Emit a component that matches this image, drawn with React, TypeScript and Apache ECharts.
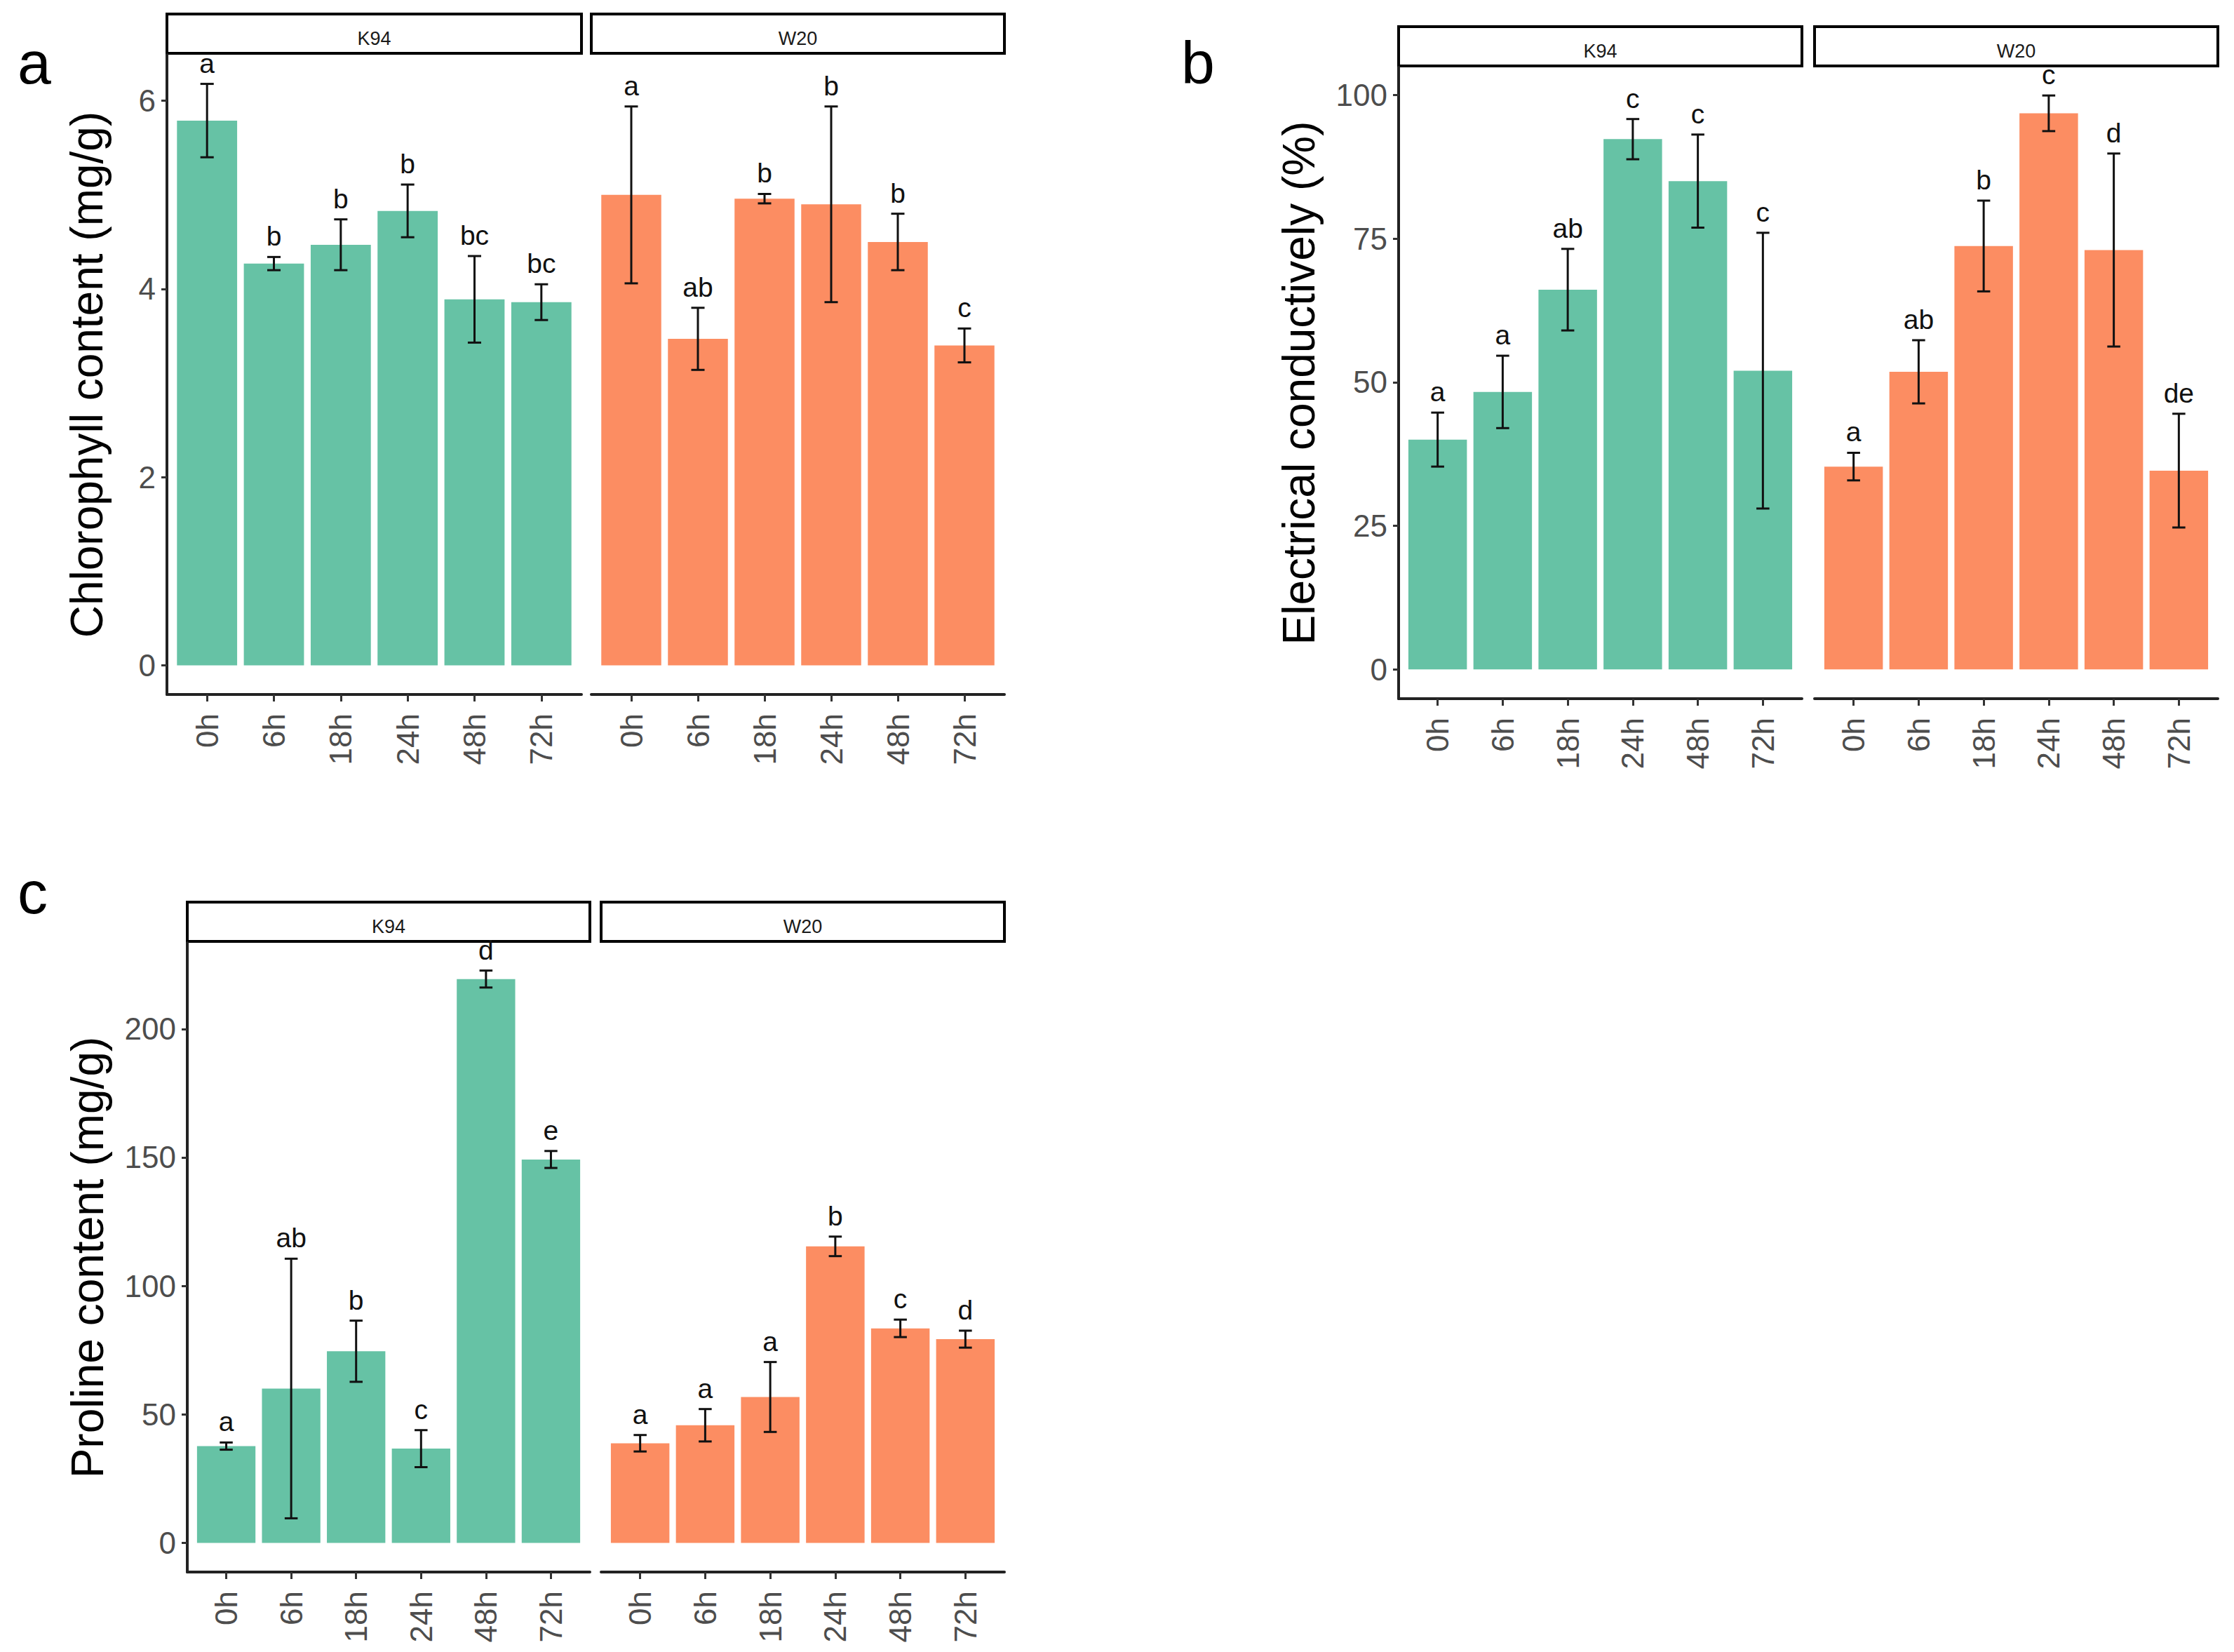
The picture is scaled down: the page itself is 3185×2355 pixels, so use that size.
import React, { useEffect, useRef } from "react";
import * as echarts from "echarts";

const FONT_NAME = "Liberation Sans";
const FONT = "'Liberation Sans', Arial, sans-serif";

// ---- categories ----
const timePoints = ["0h", "6h", "18h", "24h", "48h", "72h"];
const positions = [1, 2, 3, 4, 5, 6];
const cultivars = ["K94", "W20"];

// ---- (a) chlorophyll content (mg/g) ----
const chlK94Mean = [5.79, 4.27, 4.47, 4.83, 3.89, 3.86];
const chlK94Sd = [0.39, 0.07, 0.27, 0.28, 0.46, 0.19];
const chlK94Letters = ["a", "b", "b", "b", "bc", "bc"];
const chlW20Mean = [5.0, 3.47, 4.96, 4.9, 4.5, 3.4];
const chlW20Sd = [0.94, 0.33, 0.05, 1.04, 0.3, 0.18];
const chlW20Letters = ["a", "ab", "b", "b", "b", "c"];
const chlTicks = [0, 2, 4, 6];

// ---- (b) electrical conductivity (%) ----
const ecK94Mean = [40.0, 48.3, 66.1, 92.3, 85.0, 52.0];
const ecK94Sd = [4.7, 6.3, 7.1, 3.5, 8.1, 24.0];
const ecK94Letters = ["a", "a", "ab", "c", "c", "c"];
const ecW20Mean = [35.3, 51.8, 73.7, 96.8, 73.0, 34.6];
const ecW20Sd = [2.4, 5.5, 7.9, 3.1, 16.8, 9.9];
const ecW20Letters = ["a", "ab", "b", "c", "d", "de"];
const ecTicks = [0, 25, 50, 75, 100];

// ---- (c) proline content (mg/g) ----
const proK94Mean = [37.7, 60.1, 74.6, 36.7, 219.4, 149.2];
const proK94Sd = [1.4, 50.5, 11.9, 7.2, 3.3, 3.3];
const proK94Letters = ["a", "ab", "b", "c", "d", "e"];
const proW20Mean = [38.8, 45.8, 56.8, 115.4, 83.5, 79.3];
const proW20Sd = [3.2, 6.3, 13.6, 3.8, 3.4, 3.3];
const proW20Letters = ["a", "a", "a", "b", "c", "d"];
const proTicks = [0, 50, 100, 150, 200];

const K94_COLOR = "#66C2A5";
const W20_COLOR = "#FC8D62";

type Box = { left: number; top: number; width: number; height: number };
type Facet = {
  strip: string;
  mean: number[];
  sd: number[];
  letters: string[];
  color: string;
  box: Box;
};
type Panel = {
  tag: string;
  tagX: number;
  tagY: number;
  title: string;
  nameGap: number;
  yMin: number;
  yMax: number;
  ticks: number[];
  facets: Facet[];
};

const panels: Panel[] = [
  {
    tag: "a",
    tagX: 25,
    tagY: 132,
    title: "Chlorophyll content (mg/g)",
    nameGap: 82,
    yMin: -0.31,
    yMax: 6.49,
    ticks: chlTicks,
    facets: [
      { strip: cultivars[0], mean: chlK94Mean, sd: chlK94Sd, letters: chlK94Letters, color: K94_COLOR, box: { left: 238, top: 78, width: 591, height: 912 } },
      { strip: cultivars[1], mean: chlW20Mean, sd: chlW20Sd, letters: chlW20Letters, color: W20_COLOR, box: { left: 843, top: 78, width: 589, height: 912 } },
    ],
  },
  {
    tag: "b",
    tagX: 1684,
    tagY: 132,
    title: "Electrical conductively (%)",
    nameGap: 110,
    yMin: -5.1,
    yMax: 104.8,
    ticks: ecTicks,
    facets: [
      { strip: cultivars[0], mean: ecK94Mean, sd: ecK94Sd, letters: ecK94Letters, color: K94_COLOR, box: { left: 1994, top: 96, width: 575, height: 900 } },
      { strip: cultivars[1], mean: ecW20Mean, sd: ecW20Sd, letters: ecW20Letters, color: W20_COLOR, box: { left: 2587, top: 96, width: 575, height: 900 } },
    ],
  },
  {
    tag: "c",
    tagX: 25,
    tagY: 1315,
    title: "Proline content (mg/g)",
    nameGap: 110,
    yMin: -11.3,
    yMax: 233.5,
    ticks: proTicks,
    facets: [
      { strip: cultivars[0], mean: proK94Mean, sd: proK94Sd, letters: proK94Letters, color: K94_COLOR, box: { left: 267, top: 1344, width: 574, height: 897 } },
      { strip: cultivars[1], mean: proW20Mean, sd: proW20Sd, letters: proW20Letters, color: W20_COLOR, box: { left: 857, top: 1344, width: 575, height: 897 } },
    ],
  },
];

const makeRender = (f: Facet) => (params: any, api: any) => {
  const x = api.value(0);
  const m = api.value(1);
  const s = api.value(2);
  const tl = api.coord([x - 0.45, m]);
  const br = api.coord([x + 0.45, 0]);
  const hi = api.coord([x, m + s]);
  const lo = api.coord([x, m - s]);
  const cw = api.coord([x + 0.1, m])[0] - api.coord([x, m])[0];
  const ls = { stroke: "#111", lineWidth: 3 };
  return {
    type: "group",
    children: [
      {
        type: "rect",
        shape: { x: tl[0], y: tl[1], width: br[0] - tl[0], height: br[1] - tl[1] },
        style: { fill: f.color },
      },
      { type: "line", shape: { x1: hi[0], y1: hi[1], x2: lo[0], y2: lo[1] }, style: ls },
      { type: "line", shape: { x1: hi[0] - cw, y1: hi[1], x2: hi[0] + cw, y2: hi[1] }, style: ls },
      { type: "line", shape: { x1: lo[0] - cw, y1: lo[1], x2: lo[0] + cw, y2: lo[1] }, style: ls },
      {
        type: "text",
        x: hi[0],
        y: hi[1] - 10,
        style: {
          text: f.letters[params.dataIndex],
          font: `39px ${FONT}`,
          fill: "#111",
          align: "center",
          verticalAlign: "bottom",
          textAlign: "center",
          textVerticalAlign: "bottom",
        },
      },
    ],
  };
};

function buildOption() {
  const grids: any[] = [];
  const xAxes: any[] = [];
  const yAxes: any[] = [];
  const series: any[] = [];
  const graphics: any[] = [];

  panels.forEach((p) => {
    graphics.push({
      type: "text",
      x: p.tagX,
      y: p.tagY,
      style: {
        text: p.tag,
        font: `86px ${FONT}`,
        fill: "#000",
        align: "left",
        verticalAlign: "bottom",
        textAlign: "left",
        textVerticalAlign: "bottom",
      },
    });
    p.facets.forEach((f, fi) => {
      const idx = grids.length;
      const isLeft = fi === 0;
      grids.push({ left: f.box.left, top: f.box.top, width: f.box.width, height: f.box.height, containLabel: false });
      xAxes.push({
        type: "value",
        gridIndex: idx,
        min: 0.4,
        max: 6.6,
        axisLine: { show: true, onZero: false, lineStyle: { color: "#222", width: 4 } },
        axisTick: { show: true, customValues: positions, length: 10, lineStyle: { color: "#333", width: 3 } },
        axisLabel: {
          show: true,
          customValues: positions,
          formatter: (v: number) => timePoints[Math.round(v) - 1] ?? "",
          rotate: 90,
          margin: 27,
          fontSize: 44,
          fontFamily: FONT_NAME,
          color: "#4D4D4D",
        },
        splitLine: { show: false },
      });
      yAxes.push({
        type: "value",
        gridIndex: idx,
        show: isLeft,
        min: p.yMin,
        max: p.yMax,
        axisLine: { show: true, onZero: false, lineStyle: { color: "#222", width: 4 } },
        axisTick: { show: true, customValues: p.ticks, length: 8, lineStyle: { color: "#333", width: 3 } },
        axisLabel: {
          show: true,
          customValues: p.ticks,
          margin: 16,
          fontSize: 44,
          fontFamily: FONT_NAME,
          color: "#4D4D4D",
        },
        splitLine: { show: false },
        name: isLeft ? p.title : "",
        nameLocation: "middle",
        nameRotate: 90,
        nameGap: p.nameGap,
        nameTextStyle: { fontSize: 64, fontFamily: FONT_NAME, color: "#000" },
      });
      series.push({
        type: "custom",
        name: `${p.tag}-${f.strip}`,
        xAxisIndex: idx,
        yAxisIndex: idx,
        silent: true,
        data: f.mean.map((m, k) => [positions[k], m, f.sd[k]]),
        renderItem: makeRender(f),
      });
      graphics.push({
        type: "rect",
        shape: { x: f.box.left, y: f.box.top - 58, width: f.box.width, height: 56 },
        style: { fill: "#fff", stroke: "#000", lineWidth: 4 },
      });
      graphics.push({
        type: "text",
        x: f.box.left + f.box.width / 2,
        y: f.box.top - 23,
        style: {
          text: f.strip,
          font: `27px ${FONT}`,
          fill: "#1A1A1A",
          align: "center",
          verticalAlign: "middle",
          textAlign: "center",
          textVerticalAlign: "middle",
        },
      });
    });
  });

  return {
    animation: false,
    backgroundColor: "#ffffff",
    grid: grids,
    xAxis: xAxes,
    yAxis: yAxes,
    series,
    graphic: { elements: graphics },
  };
}

export default function App() {
  const ref = useRef<HTMLDivElement>(null);
  useEffect(() => {
    if (!ref.current) return;
    const chart = echarts.init(ref.current, undefined, { renderer: "svg" });
    chart.setOption(buildOption() as any);
    return () => chart.dispose();
  }, []);
  return (
    <div
      ref={ref}
      style={{ position: "absolute", left: 0, top: 0, width: 3185, height: 2355, background: "#fff" }}
    />
  );
}
